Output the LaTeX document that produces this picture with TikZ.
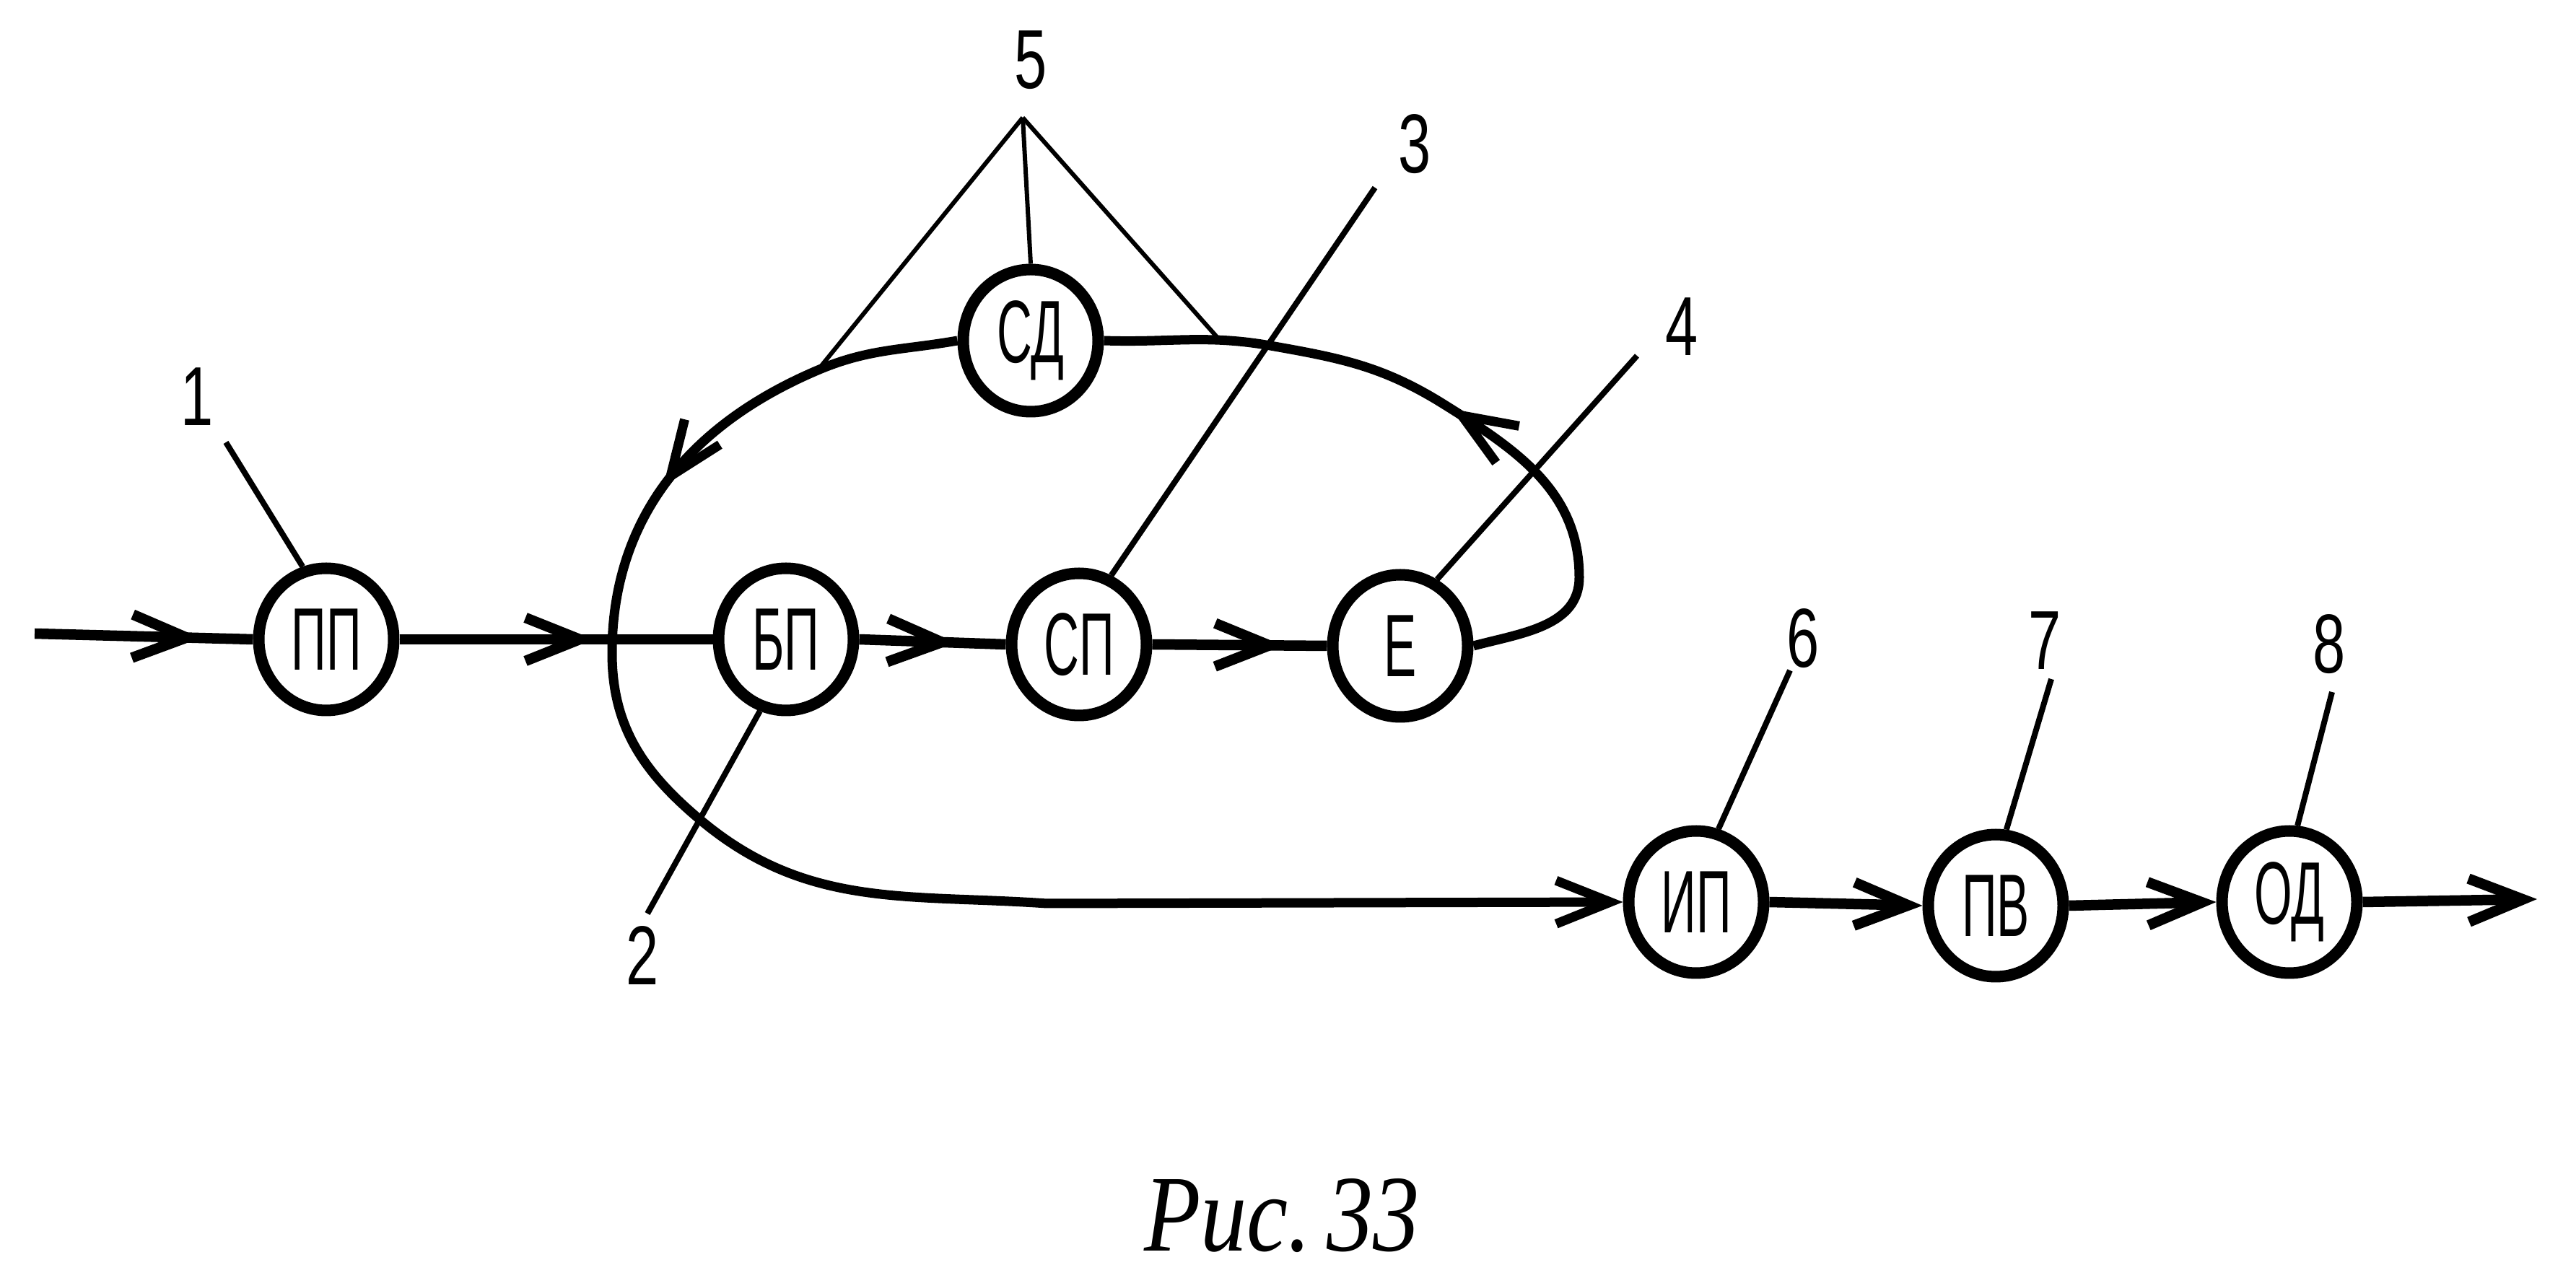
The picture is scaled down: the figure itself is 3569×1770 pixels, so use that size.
\documentclass[tikz,border=0pt]{standalone}
\usepackage{fontspec}
\setmainfont{Liberation Sans}
\newfontfamily\capfont{Liberation Serif}
\usetikzlibrary{shapes.geometric,arrows.meta,decorations.markings}
\newcommand{\narr}[1]{\scalebox{0.55}[1]{#1}}
\newcommand{\dig}[1]{\scalebox{0.7}[1]{#1}}
\begin{document}
\begin{tikzpicture}[x=0.1mm,y=0.1mm,
  blk/.style={ellipse,draw,line width=1.6mm,minimum width=18.7mm,minimum height=19.7mm,inner sep=0pt,font=\fontsize{35}{35}\selectfont},
  num/.style={inner sep=0pt,font=\fontsize{33}{33}\selectfont},
  conn/.style={line width=1.45mm},
  lead/.style={line width=0.8mm},
  thinlead/.style={line width=0.6mm},
  loopline/.style={line width=1.3mm},
  hb/.tip={Straight Barb[length=7.5mm,width=6mm]},
  midarrow/.style={postaction={decorate,decoration={markings,mark=at position #1 with {\arrow{hb}}}}}
]
\useasboundingbox (0,0) rectangle (3569,1770);

% blocks
\node[blk] (pp) at (452,884) {\narr{ПП}};
\node[blk] (bp) at (1089,884) {\narr{БП}};
\node[blk] (sp) at (1495,877) {\narr{СП}};
\node[blk] (e)  at (1940,875) {\narr{Е}};
\node[blk] (sd) at (1428,1298) {\narr{СД}};
\node[blk] (ip) at (2350,520) {\narr{ИП}};
\node[blk] (pv) at (2765,515) {\narr{ПВ}};
\node[blk] (od) at (3172,520) {\narr{ОД}};

% main flow
\coordinate (in) at (48,892);
\coordinate (out) at (3515,524);
\draw[conn, midarrow=0.76] (in) -- (pp.west);
\draw[conn, midarrow=0.62] (pp.east) -- (bp.west);
\draw[conn, midarrow=0.66] (bp.east) -- (sp.west);
\draw[conn, midarrow=0.75] (sp.east) -- (e.west);
\draw[conn, -{hb}] (ip.east) -- (pv.west);
\draw[conn, -{hb}] (pv.east) -- (od.west);
\draw[conn, -{hb}] (od.east) -- (out);

% loop E -> SD
\coordinate (er) at (2188,970);
\coordinate (kt) at (2000,1210);
\coordinate (ku) at (1760,1291);
\draw[loopline, midarrow=0.5] (e.east) to[out=15,in=270] (er) to[out=90,in=-32] (kt)
  to[out=148,in=-10] (ku) to[out=170,in=-2] (sd.east);

% big loop SD -> IP
\coordinate (c5l) at (1133,1257);
\coordinate (kl) at (848,865);
\coordinate (kb) at (970,634);
\coordinate (kc) at (1450,518);
\draw[loopline, midarrow=0.205, -{hb}] (sd.west) to[out=190,in=23] (c5l) to[out=203,in=90] (kl)
  to[out=270,in=140] (kb) to[out=-40,in=176] (kc) -- (ip.west);

% labels
\node[num] (n1) at (273,1220) {\dig{1}};
\coordinate (l1) at (313,1157);
\draw[lead] (l1) -- (pp.108);

\node[num] (n2) at (890,446) {\dig{2}};
\coordinate (l2) at (897,504);
\draw[lead] (l2) -- (bp.250);

\node[num] (n3) at (1960,1570) {\dig{3}};
\coordinate (l3) at (1905,1510);
\draw[lead] (l3) -- (sp.65);

\node[num] (n4) at (2330,1317) {\dig{4}};
\coordinate (l4) at (2268,1277);
\draw[lead] (l4) -- (e.61);

\node[num] (n5) at (1428,1687) {\dig{5}};
\coordinate (l5) at (1417,1607);
\coordinate (l5r) at (1694,1294);
\draw[thinlead] (l5) -- (c5l);
\draw[thinlead] (l5) -- (sd.north);
\draw[thinlead] (l5) -- (l5r);

\node[num] (n6) at (2498,885) {\dig{6}};
\coordinate (l6) at (2480,841);
\draw[lead] (l6) -- (ip.73);

\node[num] (n7) at (2833,882) {\dig{7}};
\coordinate (l7) at (2842,829);
\draw[lead] (l7) -- (pv.82);

\node[num] (n8) at (3227,877) {\dig{8}};
\coordinate (l8) at (3231,811);
\draw[lead] (l8) -- (od.84);

% caption
\node[font=\capfont\itshape\fontsize{43}{43}\selectfont, inner sep=0pt] (cap) at (1776,85) {\scalebox{0.85}[1]{Рис.\,33}};
\end{tikzpicture}
\end{document}
